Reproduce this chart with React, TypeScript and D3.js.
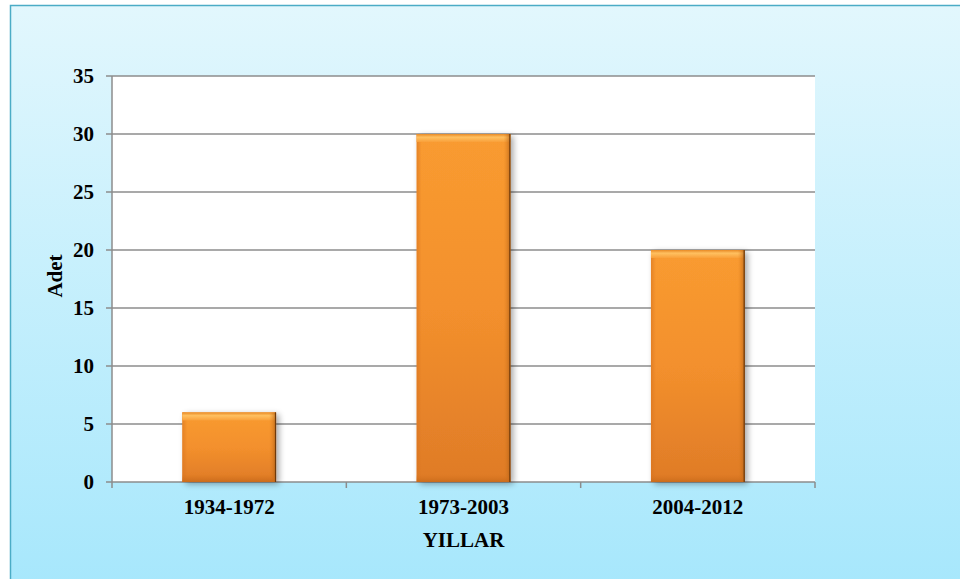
import React from "react";
import * as d3 from "d3";

const categories = ["1934-1972", "1973-2003", "2004-2012"];
const values = [6, 30, 20];
const yTicks = [0, 5, 10, 15, 20, 25, 30, 35];

const W = 960, H = 579;
const M = { left: 112, right: 815, top: 76, bottom: 482 };

export default function App() {
  const x = d3.scaleBand<string>().domain(categories).range([M.left, M.right]).paddingInner(0.6).paddingOuter(0.3);
  const y = d3.scaleLinear().domain([0, 35]).range([M.bottom, M.top]);
  const step = (M.right - M.left) / categories.length;
  const font = "'Liberation Serif', 'Times New Roman', serif";
  const fs = 21;
  return (
    <svg width={W} height={H} style={{ position: "absolute", left: 0, top: 0 }}>
      <defs>
        <linearGradient id="bg" x1="0" y1="0" x2="0" y2="1">
          <stop offset="0" stopColor="#e2f7fd" />
          <stop offset="1" stopColor="#a6e7fc" />
        </linearGradient>
        <linearGradient id="barV" x1="0" y1="0" x2="0" y2="1">
          <stop offset="0" stopColor="#f99b30" />
          <stop offset="0.5" stopColor="#f3902d" />
          <stop offset="1" stopColor="#df7b27" />
        </linearGradient>
        <linearGradient id="topBev" x1="0" y1="0" x2="0" y2="1">
          <stop offset="0" stopColor="#e88a25" />
          <stop offset="0.4" stopColor="#ffc060" />
          <stop offset="1" stopColor="#f9a03a" />
        </linearGradient>
        <linearGradient id="sideR" x1="0" y1="0" x2="1" y2="0">
          <stop offset="0" stopColor="#e08020" stopOpacity="0" />
          <stop offset="1" stopColor="#a85a15" stopOpacity="0.7" />
        </linearGradient>
        <linearGradient id="sideL" x1="0" y1="0" x2="1" y2="0">
          <stop offset="0" stopColor="#d87420" stopOpacity="0.6" />
          <stop offset="1" stopColor="#d87420" stopOpacity="0" />
        </linearGradient>
        <linearGradient id="botBev" x1="0" y1="0" x2="0" y2="1">
          <stop offset="0" stopColor="#d87420" stopOpacity="0" />
          <stop offset="1" stopColor="#c86a1a" stopOpacity="0.9" />
        </linearGradient>
        <filter id="sh" x="-20%" y="-20%" width="140%" height="140%">
          <feGaussianBlur in="SourceAlpha" stdDeviation="3" />
          <feOffset dx="3" dy="2" result="b" />
          <feComponentTransfer><feFuncA type="linear" slope="0.35" /></feComponentTransfer>
          <feMerge><feMergeNode /><feMergeNode in="SourceGraphic" /></feMerge>
        </filter>
      </defs>
      <rect x={10.5} y={5.5} width={W + 10} height={H + 10} fill="url(#bg)" stroke="#4bacc6" strokeWidth={1.5} />
      <rect x={M.left} y={M.top} width={M.right - M.left} height={M.bottom - M.top} fill="#ffffff" />
      {yTicks.map((t) => (
        <g key={t}>
          <line x1={M.left - 6} x2={M.right} y1={y(t)} y2={y(t)} stroke="#8c8c8c" strokeWidth={1.5} />
          <text x={M.left - 18} y={y(t)} dy="0.33em" textAnchor="end" fontFamily={font} fontWeight="bold" fontSize={fs} fill="#000">{t}</text>
        </g>
      ))}
      <line x1={M.left} x2={M.left} y1={M.top} y2={M.bottom} stroke="#8c8c8c" strokeWidth={1.5} />
      {d3.range(categories.length + 1).map((i) => (
        <line key={i} x1={M.left + i * step} x2={M.left + i * step} y1={M.bottom} y2={M.bottom + 6} stroke="#8c8c8c" strokeWidth={1.5} />
      ))}
      {categories.map((c, i) => {
        const bx = x(c)!, bw = x.bandwidth(), by = y(values[i]), bh = y(0) - y(values[i]);
        return (
          <g key={c}>
            <g filter="url(#sh)">
              <rect x={bx} y={by} width={bw} height={bh} fill="url(#barV)" />
            </g>
            <rect x={bx} y={by} width={5} height={bh} fill="url(#sideL)" />
            <rect x={bx} y={by} width={bw} height={Math.min(8, bh)} fill="url(#topBev)" />
            <rect x={bx + bw - 7} y={by} width={7} height={bh} fill="url(#sideR)" />
            <rect x={bx} y={by + bh - 8} width={bw} height={8} fill="url(#botBev)" />
            <line x1={bx + bw - 0.5} x2={bx + bw - 0.5} y1={by} y2={by + bh} stroke="#6e3a0c" strokeWidth={1.2} />
            <text x={bx + bw / 2} y={M.bottom + 32} textAnchor="middle" fontFamily={font} fontWeight="bold" fontSize={fs} fill="#000">{c}</text>
          </g>
        );
      })}
      <text x={(M.left + M.right) / 2} y={547} textAnchor="middle" fontFamily={font} fontWeight="bold" fontSize={fs} fill="#000">YILLAR</text>
      <text transform={`translate(62,${(M.top + M.bottom) / 2 - 3}) rotate(-90)`} textAnchor="middle" fontFamily={font} fontWeight="bold" fontSize={fs} fill="#000">Adet</text>
    </svg>
  );
}
